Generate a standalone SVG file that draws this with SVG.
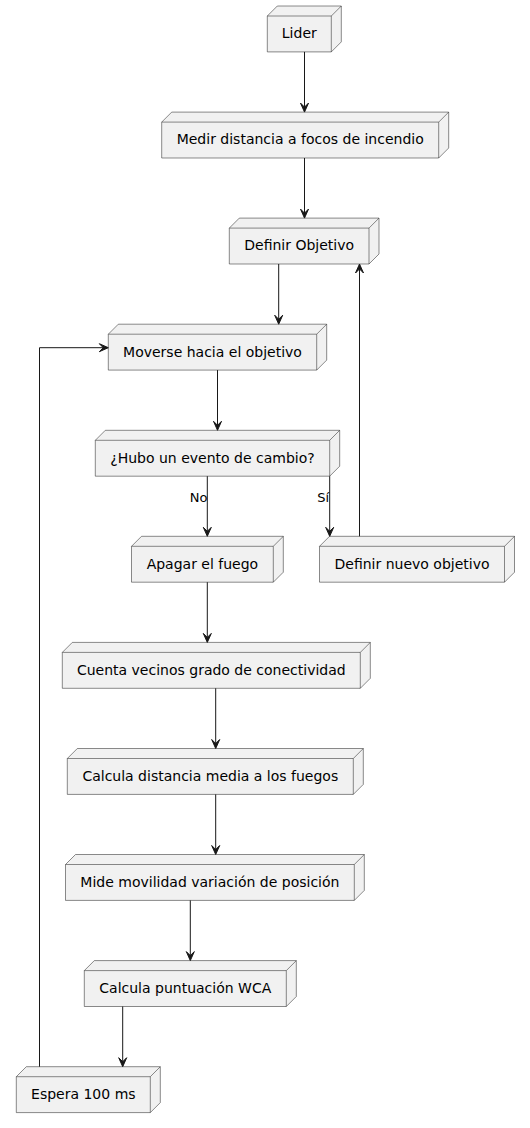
<svg xmlns="http://www.w3.org/2000/svg" width="530" height="1128" viewBox="0 0 530 1128">
<style>
.n path{fill:#F1F1F1;stroke:#181818;stroke-width:0.5}
.n path.e{fill:none}
.n text{font-family:"DejaVu Sans",sans-serif;font-size:14px;fill:#000;text-anchor:middle}
.c line,.c path{stroke:#181818;stroke-width:1;fill:none}
.c polygon{fill:#181818;stroke:#181818;stroke-width:1}
.c text{font-family:"DejaVu Sans",sans-serif;font-size:13px;fill:#000}
</style>
<rect width="530" height="1128" fill="#FFFFFF"/>
<g id="lider" class="n">
<path d="M267.3,16 L277.3,6 L341.3,6 L341.3,41.9 L331.3,51.9 L267.3,51.9 Z"/>
<path class="e" d="M331.3,16 L341.3,6 M267.3,16 L331.3,16 L331.3,51.9"/>
<text x="299.3" y="38.3">Lider</text>
</g>
<g id="medir" class="n">
<path d="M161.7,122.1 L171.7,112.1 L448.7,112.1 L448.7,148 L438.7,158 L161.7,158 Z"/>
<path class="e" d="M438.7,122.1 L448.7,112.1 M161.7,122.1 L438.7,122.1 L438.7,158"/>
<text x="300.2" y="144.4">Medir distancia a focos de incendio</text>
</g>
<g id="definir" class="n">
<path d="M229.3,228.1 L239.3,218.1 L379,218.1 L379,254 L369,264 L229.3,264 Z"/>
<path class="e" d="M369,228.1 L379,218.1 M229.3,228.1 L369,228.1 L369,264"/>
<text x="299.2" y="250.4">Definir Objetivo</text>
</g>
<g id="moverse" class="n">
<path d="M108.3,334.2 L118.3,324.2 L326.7,324.2 L326.7,360.1 L316.7,370.1 L108.3,370.1 Z"/>
<path class="e" d="M316.7,334.2 L326.7,324.2 M108.3,334.2 L316.7,334.2 L316.7,370.1"/>
<text x="212.5" y="356.5">Moverse hacia el objetivo</text>
</g>
<g id="hubo" class="n">
<path d="M95.3,440.3 L105.3,430.3 L339.7,430.3 L339.7,466.2 L329.7,476.2 L95.3,476.2 Z"/>
<path class="e" d="M329.7,440.3 L339.7,430.3 M95.3,440.3 L329.7,440.3 L329.7,476.2"/>
<text x="212.5" y="462.6">¿Hubo un evento de cambio?</text>
</g>
<g id="apagar" class="n">
<path d="M131.5,546.3 L141.5,536.3 L283.3,536.3 L283.3,572.2 L273.3,582.2 L131.5,582.2 Z"/>
<path class="e" d="M273.3,546.3 L283.3,536.3 M131.5,546.3 L273.3,546.3 L273.3,582.2"/>
<text x="202.4" y="568.6">Apagar el fuego</text>
</g>
<g id="definir-nuevo" class="n">
<path d="M319.5,546.3 L329.5,536.3 L514.5,536.3 L514.5,572.2 L504.5,582.2 L319.5,582.2 Z"/>
<path class="e" d="M504.5,546.3 L514.5,536.3 M319.5,546.3 L504.5,546.3 L504.5,582.2"/>
<text x="412" y="568.6">Definir nuevo objetivo</text>
</g>
<g id="cuenta" class="n">
<path d="M62.3,652.4 L72.3,642.4 L370.3,642.4 L370.3,678.3 L360.3,688.3 L62.3,688.3 Z"/>
<path class="e" d="M360.3,652.4 L370.3,642.4 M62.3,652.4 L360.3,652.4 L360.3,688.3"/>
<text x="211.3" y="674.7">Cuenta vecinos grado de conectividad</text>
</g>
<g id="calcula-distancia" class="n">
<path d="M67.3,758.5 L77.3,748.5 L363.3,748.5 L363.3,784.4 L353.3,794.4 L67.3,794.4 Z"/>
<path class="e" d="M353.3,758.5 L363.3,748.5 M67.3,758.5 L353.3,758.5 L353.3,794.4"/>
<text x="210.3" y="780.8">Calcula distancia media a los fuegos</text>
</g>
<g id="mide" class="n">
<path d="M65.5,864.5 L75.5,854.5 L364.3,854.5 L364.3,890.4 L354.3,900.4 L65.5,900.4 Z"/>
<path class="e" d="M354.3,864.5 L364.3,854.5 M65.5,864.5 L354.3,864.5 L354.3,900.4"/>
<text x="209.9" y="886.8">Mide movilidad variación de posición</text>
</g>
<g id="wca" class="n">
<path d="M84.3,970.6 L94.3,960.6 L296.3,960.6 L296.3,996.5 L286.3,1006.5 L84.3,1006.5 Z"/>
<path class="e" d="M286.3,970.6 L296.3,960.6 M84.3,970.6 L286.3,970.6 L286.3,1006.5"/>
<text x="185.3" y="992.9">Calcula puntuación WCA</text>
</g>
<g id="espera" class="n">
<path d="M16.3,1076.7 L26.3,1066.7 L160.3,1066.7 L160.3,1102.6 L150.3,1112.6 L16.3,1112.6 Z"/>
<path class="e" d="M150.3,1076.7 L160.3,1066.7 M16.3,1076.7 L150.3,1076.7 L150.3,1112.6"/>
<text x="83.3" y="1099">Espera 100 ms</text>
</g>
<g id="connectors" class="c">
<line x1="304.5" y1="51.9" x2="304.5" y2="111"/>
<polygon points="304.5,112.1 300.5,103.1 304.5,107.1 308.5,103.1"/>
<line x1="304.5" y1="158" x2="304.5" y2="217"/>
<polygon points="304.5,218.1 300.5,209.1 304.5,213.1 308.5,209.1"/>
<line x1="278.7" y1="264" x2="278.7" y2="323"/>
<polygon points="278.7,324.2 274.7,315.2 278.7,319.2 282.7,315.2"/>
<line x1="217.5" y1="370.1" x2="217.5" y2="429"/>
<polygon points="217.5,430.3 213.5,421.3 217.5,425.3 221.5,421.3"/>
<line x1="207.3" y1="476.2" x2="207.3" y2="535"/>
<polygon points="207.3,536.3 203.3,527.3 207.3,531.3 211.3,527.3"/>
<text x="189.8" y="502.3">No</text>
<line x1="329.7" y1="476.2" x2="329.7" y2="535"/>
<polygon points="329.7,536.3 325.7,527.3 329.7,531.3 333.7,527.3"/>
<text x="317.2" y="502.3">Sí</text>
<line x1="359.5" y1="536.3" x2="359.5" y2="265"/>
<polygon points="359.5,264 355.5,273 359.5,269 363.5,273"/>
<line x1="207.3" y1="582.2" x2="207.3" y2="641"/>
<polygon points="207.3,642.4 203.3,633.4 207.3,637.4 211.3,633.4"/>
<line x1="215.7" y1="688.3" x2="215.7" y2="747"/>
<polygon points="215.7,748.5 211.7,739.5 215.7,743.5 219.7,739.5"/>
<line x1="215.7" y1="794.4" x2="215.7" y2="853"/>
<polygon points="215.7,854.5 211.7,845.5 215.7,849.5 219.7,845.5"/>
<line x1="190.3" y1="900.4" x2="190.3" y2="959"/>
<polygon points="190.3,960.6 186.3,951.6 190.3,955.6 194.3,951.6"/>
<line x1="122.7" y1="1006.5" x2="122.7" y2="1065.5"/>
<polygon points="122.7,1066.7 118.7,1057.7 122.7,1061.7 126.7,1057.7"/>
<path d="M39.5,1066.7 L39.5,347.7 L107,347.7"/>
<polygon points="108.3,347.7 99.3,343.7 103.3,347.7 99.3,351.7"/>
</g>
</svg>
